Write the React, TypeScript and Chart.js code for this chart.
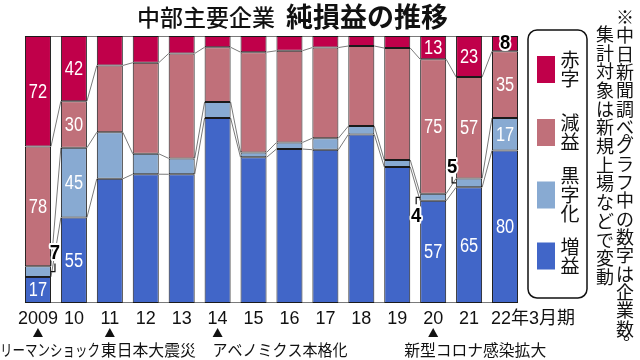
import React, { useEffect, useRef } from "react";
import { Chart, registerables } from "chart.js";

Chart.register(...registerables);

// ---- data ----
const years = ["2009", "10", "11", "12", "13", "14", "15", "16", "17", "18", "19", "20", "21", "22年3月期"];
const zoueki = [17, 55, 80, 82, 81, 115, 90, 94, 93, 101, 79, 57, 65, 80]; // 増益
const kurojika = [7, 45, 30, 13, 10, 10, 3, 4, 7, 5, 4, 4, 5, 17]; // 黒字化
const genneki = [78, 30, 43, 58, 66, 34, 62, 56, 55, 48, 65, 75, 57, 35]; // 減益
const akaji = [72, 42, 19, 17, 11, 7, 10, 9, 7, 6, 7, 13, 23, 8]; // 赤字
const labeledYears = ["2009", "10", "20", "21", "22年3月期"];
const eventYears = ["2009", "11", "14", "20"];
const eventTexts = ["リーマンショック", "東日本大震災", "アベノミクス本格化", "新型コロナ感染拡大"];
const titleMain = "中部主要企業";
const titleSub = "純損益の推移";
const noteLine1 = "※中日新聞調べ。グラフ中の数字は企業数。";
const noteLine2 = "集計対象は新規上場などで変動";

// ---- styles ----
const RED = "#C0004A";
const PINK = "#C0707A";
const LBLUE = "#88AAD2";
const BLUE = "#4166C8";
const JP = '"Noto Sans CJK JP", sans-serif';
const NUM = '"Liberation Sans", "Noto Sans CJK JP", sans-serif';

const series = [
  { name: "増益", values: zoueki, color: BLUE },
  { name: "黒字化", values: kurojika, color: LBLUE },
  { name: "減益", values: genneki, color: PINK },
  { name: "赤字", values: akaji, color: RED },
];

// small outside call-out labels: [year, series index, side]
const callouts: [string, number, string][] = [
  ["2009", 1, "right"],
  ["20", 1, "leftDown"],
  ["21", 1, "leftUp"],
];
const darkLabels: [string, number][] = [["22年3月期", 3]];

// event text layout (offset from event bar centre, width) – style only
const eventLayout: [number, number][] = [
  [-38, 100],
  [-9, 95],
  [-5, 135],
  [-29, 142],
];

function drawNum(
  ctx: CanvasRenderingContext2D,
  text: string,
  x: number,
  y: number,
  color: string,
  halo: boolean
) {
  ctx.save();
  ctx.font = halo ? `bold 21px ${NUM}` : `20px ${NUM}`;
  ctx.textAlign = "center";
  ctx.textBaseline = "middle";
  ctx.translate(x, y + 1);
  ctx.scale(halo ? 0.88 : 0.82, 1);
  if (halo) {
    ctx.strokeStyle = "#fff";
    ctx.lineWidth = 4;
    ctx.lineJoin = "round";
    ctx.strokeText(text, 0, 0);
  }
  ctx.fillStyle = color;
  ctx.fillText(text, 0, 0);
  ctx.restore();
}

function drawVertical(ctx: CanvasRenderingContext2D, text: string, x: number, yStart: number, step: number) {
  let k = 0;
  for (const ch of Array.from(text)) {
    if (ch === "。") {
      ctx.fillText(ch, x + 7, yStart + (k - 1) * step + 4);
      continue;
    }
    ctx.fillText(ch, x, yStart + k * step);
    k++;
  }
}

const decorPlugin = {
  id: "decor",
  beforeDatasetsDraw(chart: any) {
    const ctx: CanvasRenderingContext2D = chart.ctx;
    const n = years.length;
    const bar = (d: number, i: number) => chart.getDatasetMeta(d).data[i] as any;
    ctx.save();
    ctx.strokeStyle = "#7a7a7a";
    ctx.lineWidth = 1;
    const seg = (x1: number, y1: number, x2: number, y2: number) => {
      ctx.beginPath();
      ctx.moveTo(x1, y1);
      ctx.lineTo(x2, y2);
      ctx.stroke();
    };
    const f = bar(0, 0);
    const l = bar(0, n - 1);
    const { top, bottom } = chart.chartArea;
    seg(f.x - f.width / 2, top + 0.5, l.x + l.width / 2, top + 0.5);
    seg(f.x - f.width / 2, bottom - 0.5, l.x + l.width / 2, bottom - 0.5);
    for (let i = 0; i < n - 1; i++) {
      for (let d = 0; d < 3; d++) {
        const a = bar(d, i);
        const b = bar(d, i + 1);
        seg(a.x + a.width / 2, a.y, b.x - b.width / 2, b.y);
      }
    }
    ctx.restore();
  },
  afterDatasetsDraw(chart: any) {
    const ctx: CanvasRenderingContext2D = chart.ctx;
    for (const yr of labeledYears) {
      const i = years.indexOf(yr);
      for (let d = 0; d < 4; d++) {
        const el = chart.getDatasetMeta(d).data[i] as any;
        const v = String(series[d].values[i]);
        const cy = (el.y + el.base) / 2;
        const co = callouts.find((c) => c[0] === yr && c[1] === d);
        if (co) {
          ctx.save();
          ctx.strokeStyle = "#111";
          ctx.lineWidth = 1.2;
          ctx.beginPath();
          if (co[2] === "right") {
            const R = el.x + el.width / 2;
            ctx.moveTo(R, cy);
            ctx.lineTo(R + 4, cy);
            ctx.lineTo(R + 4, cy - 8);
            ctx.stroke();
            ctx.restore();
            drawNum(ctx, v, R + 4, cy - 19, "#000", true);
          } else if (co[2] === "leftDown") {
            const L = el.x - el.width / 2;
            ctx.moveTo(L, cy);
            ctx.lineTo(L - 4, cy);
            ctx.lineTo(L - 4, cy + 7);
            ctx.stroke();
            ctx.restore();
            drawNum(ctx, v, L - 4, cy + 18, "#000", true);
          } else {
            const L = el.x - el.width / 2;
            ctx.moveTo(L, cy);
            ctx.lineTo(L - 4, cy);
            ctx.lineTo(L - 4, cy - 6);
            ctx.stroke();
            ctx.restore();
            drawNum(ctx, v, L - 4, cy - 17, "#000", true);
          }
          continue;
        }
        const dark = darkLabels.some((c) => c[0] === yr && c[1] === d);
        drawNum(ctx, v, el.x, dark ? cy - 1 : cy, dark ? "#000" : "#fff", dark);
      }
    }
  },
  afterDraw(chart: any) {
    const ctx: CanvasRenderingContext2D = chart.ctx;
    const xs = chart.scales.x;
    ctx.save();
    // title
    ctx.fillStyle = "#111";
    ctx.textBaseline = "middle";
    ctx.textAlign = "left";
    ctx.font = `500 23px ${JP}`;
    ctx.fillText(titleMain, 137, 17);
    ctx.font = `bold 27px ${JP}`;
    ctx.fillText(titleSub, 286, 17);

    // x labels
    ctx.font = `18px ${NUM}`;
    ctx.fillStyle = "#111";
    years.forEach((y, i) => {
      const el = chart.getDatasetMeta(0).data[i] as any;
      if (i === years.length - 1) {
        ctx.textAlign = "left";
        ctx.fillText(y, el.x - el.width / 2 - 1, 319);
      } else {
        ctx.textAlign = "center";
        ctx.fillText(y, el.x, 319);
      }
    });

    // events
    eventYears.forEach((y, k) => {
      const x = xs.getPixelForValue(years.indexOf(y));
      ctx.beginPath();
      ctx.moveTo(x, 328);
      ctx.lineTo(x + 5, 337);
      ctx.lineTo(x - 5, 337);
      ctx.closePath();
      ctx.fill();
      ctx.font = `16px ${JP}`;
      ctx.textAlign = "left";
      ctx.fillText(eventTexts[k], x + eventLayout[k][0], 350, eventLayout[k][1]);
    });

    // legend box
    ctx.strokeStyle = "#111";
    ctx.lineWidth = 1.5;
    ctx.beginPath();
    (ctx as any).roundRect(528, 30, 59, 268, 9);
    ctx.stroke();
    const legendCenters = [69.5, 132.5, 195, 256];
    const order = [3, 2, 1, 0];
    ctx.font = `19px ${JP}`;
    ctx.textAlign = "center";
    order.forEach((d, k) => {
      const cy = legendCenters[k];
      ctx.fillStyle = series[d].color;
      ctx.fillRect(537, cy - 13.5, 18, 27);
      ctx.fillStyle = "#111";
      const chars = Array.from(series[d].name);
      const step = 19;
      const y0 = cy - ((chars.length - 1) * step) / 2;
      chars.forEach((ch, j) => ctx.fillText(ch, 570, y0 + j * step));
    });

    // note (vertical)
    ctx.font = `18px ${JP}`;
    ctx.fillStyle = "#111";
    ctx.textAlign = "center";
    drawVertical(ctx, noteLine1, 625, 17, 18.35);
    drawVertical(ctx, noteLine2, 605, 34, 18.7);
    ctx.restore();
  },
};

export default function App() {
  const ref = useRef<HTMLCanvasElement>(null);
  useEffect(() => {
    const canvas = ref.current!;
    const totals = years.map((_, i) => zoueki[i] + kurojika[i] + genneki[i] + akaji[i]);
    const chart = new Chart(canvas, {
      type: "bar",
      data: {
        labels: years,
        datasets: series.map((s) => ({
          label: s.name,
          data: s.values.map((v, i) => (v / totals[i]) * 100),
          backgroundColor: s.color,
          borderColor: "#1a1a1a",
          borderWidth: 1,
          borderSkipped: false,
          categoryPercentage: 1,
          barPercentage: 0.724,
        })),
      },
      options: {
        responsive: false,
        animation: false,
        layout: { padding: { left: 20, right: 117, top: 36, bottom: 57 } },
        scales: {
          x: { stacked: true, display: false },
          y: { stacked: true, display: false, min: 0, max: 100 },
        },
        plugins: { legend: { display: false }, tooltip: { enabled: false } },
      },
      plugins: [decorPlugin],
    } as any);
    return () => chart.destroy();
  }, []);
  return (
    <div style={{ position: "absolute", left: 0, top: 0, width: 640, height: 360, background: "#fff" }}>
      <canvas ref={ref} width={640} height={360} style={{ display: "block" }} />
    </div>
  );
}
